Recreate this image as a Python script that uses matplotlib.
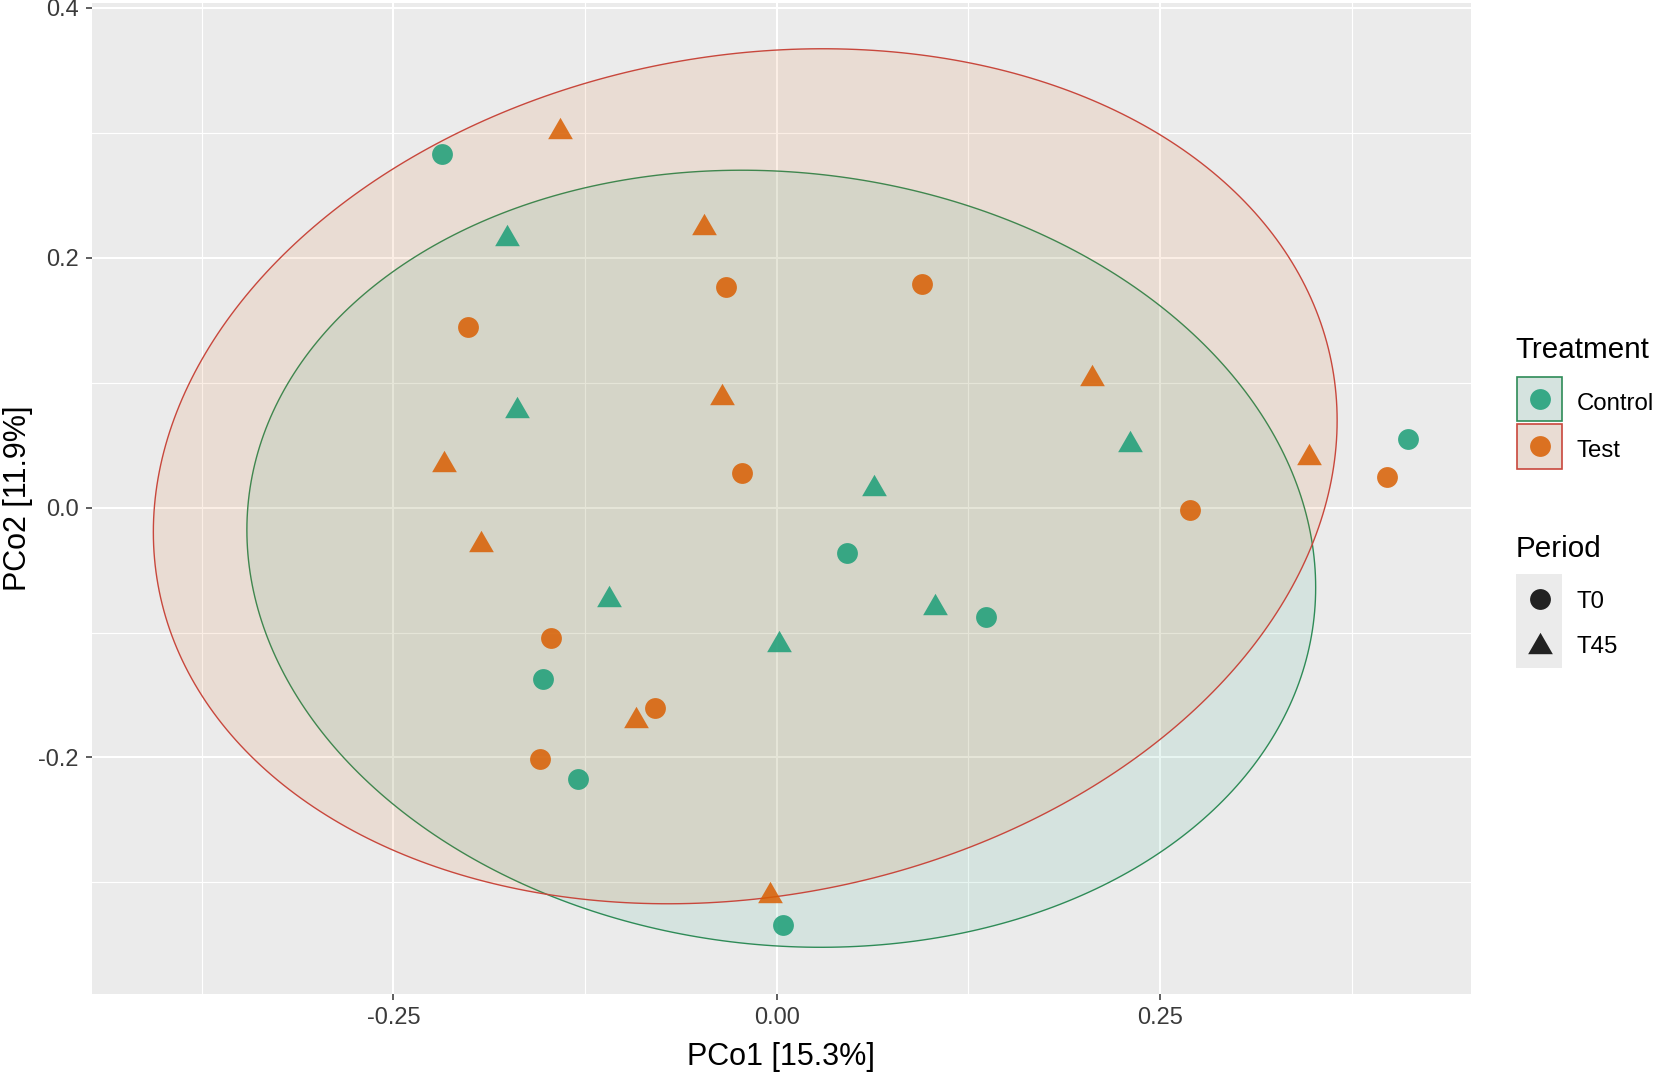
import numpy as np
import matplotlib
matplotlib.use("Agg")
import matplotlib.pyplot as plt
from matplotlib.colors import to_rgba
from matplotlib.patches import Rectangle
from matplotlib.lines import Line2D
from matplotlib.path import Path

# PCoA scores
control_t0_x = [-0.2183, 0.4117, 0.0458, 0.1363, -0.1523, -0.1293, 0.0043]
control_t0_y = [0.2826, 0.0550, -0.0367, -0.0876, -0.1376, -0.2175, -0.3340]
control_t45_x = [-0.1760, -0.1695, 0.0635, 0.2302, -0.1095, 0.1033, 0.0015]
control_t45_y = [0.2182, 0.0802, 0.0182, 0.0533, -0.0704, -0.0768, -0.1065]
test_t0_x = [-0.2010, -0.0330, 0.0945, -0.0228, 0.2694, 0.3978, -0.1473, -0.0795, -0.1543]
test_t0_y = [0.1447, 0.1765, 0.1789, 0.0275, -0.0016, 0.0241, -0.1044, -0.1604, -0.2016]
test_t45_x = [-0.1415, -0.0475, -0.0358, -0.2170, -0.1930, 0.2054, 0.3474, -0.0920, -0.0044]
test_t45_y = [0.3040, 0.2267, 0.0909, 0.0369, -0.0266, 0.1064, 0.0430, -0.1673, -0.3076]

# ellipse: centre x, centre y, half width, tilt (y offset of right end), half height term
control_ellipse = [0.0030, -0.0410, 0.3485, -0.0230, 0.3100]
test_ellipse = [-0.0205, 0.0250, 0.3860, 0.0447, 0.3391]

x_ticks = [-0.25, 0.0, 0.25]
x_tick_labels = ["-0.25", "0.00", "0.25"]
y_ticks = [-0.2, 0.0, 0.2, 0.4]
y_tick_labels = ["-0.2", "0.0", "0.2", "0.4"]

green = "#1B9E77"
orange = "#D95F02"
green_line = "#2E8B57"
red_line = "#C8473C"
panel_bg = "#EBEBEB"

plt.rcParams['font.family'] = ['Liberation Sans', 'DejaVu Sans']

W, H = 1654, 1072
fig = plt.figure(figsize=(W / 100, H / 100), dpi=100)
ax = fig.add_axes([91.7 / W, 1 - 993.6 / H, (1471 - 91.7) / W, (993.6 - 3.3) / H])
ax.set_facecolor(panel_bg)
for s in ax.spines.values():
    s.set_visible(False)

ax.set_xlim(-0.4467, 0.4528)
ax.set_ylim(-0.3889, 0.4034)
ax.set_xticks(x_ticks)
ax.set_xticklabels(x_tick_labels)
ax.set_yticks(y_ticks)
ax.set_yticklabels(y_tick_labels)
ax.set_xticks([-0.375, -0.125, 0.125, 0.375], minor=True)
ax.set_yticks([-0.3, -0.1, 0.1, 0.3], minor=True)
ax.grid(True, which="major", color="white", linewidth=1.5)
ax.grid(True, which="minor", color="white", linewidth=0.8)
ax.set_axisbelow(True)
ax.tick_params(which="major", length=4.3, width=1.1, color="#333333",
               labelsize=17, labelcolor="#3A3A3A", pad=5.0)
ax.tick_params(which="minor", length=0)

# ellipses (closed polygons so the outline has no seam)
t = np.linspace(0, 2 * np.pi, 400, endpoint=False)
for e, fcol, lcol in [(control_ellipse, green, green_line), (test_ellipse, orange, red_line)]:
    cx, cy, hw, k, v = e
    ex = cx + hw * np.cos(t)
    ey = cy + k * np.cos(t) + v * np.sin(t)
    ax.fill(ex, ey, facecolor=to_rgba(fcol, 0.1), edgecolor=lcol, linewidth=1.0)

tri = Path([(0, 0.75), (-0.866, -0.75), (0.866, -0.75), (0, 0.75)])
ms_circle = 15
ms_tri = 17.8
ax.plot(control_t0_x, control_t0_y, 'o', color=green, alpha=0.85, ms=ms_circle, mew=0)
ax.plot(control_t45_x, control_t45_y, marker=tri, ls='none', color=green, alpha=0.85, ms=ms_tri, mew=0)
ax.plot(test_t0_x, test_t0_y, 'o', color=orange, alpha=0.85, ms=ms_circle, mew=0)
ax.plot(test_t45_x, test_t45_y, marker=tri, ls='none', color=orange, alpha=0.85, ms=ms_tri, mew=0)

ax.set_xlabel("PCo1 [15.3%]", fontsize=22, color="black")
ax.xaxis.set_label_coords(0.5, -0.049)
ax.set_ylabel("PCo2 [11.9%]", fontsize=22, color="black")
ax.yaxis.set_label_coords(-0.0535, 0.5)
ax.yaxis.label.set_va("center")


# legend, drawn by hand in pixel positions
def fx(px):
    return px / W


def fy(py):
    return 1 - py / H


label_x = 1576.5
label_size = 17.3

fig.text(fx(1515.7), fy(358), "Treatment", fontsize=21.3, va="baseline", ha="left")
keys = [("Control", green, green_line, 376.7, 410), ("Test", orange, red_line, 424.0, 456.7)]
for name, fcol, lcol, top, base in keys:
    fig.add_artist(Rectangle((fx(1516.7), fy(top + 44.5)), 45.3 / W, 44.5 / H,
                             transform=fig.transFigure, facecolor=panel_bg, edgecolor="none"))
    fig.add_artist(Rectangle((fx(1516.7), fy(top + 44.5)), 45.3 / W, 44.5 / H,
                             transform=fig.transFigure, facecolor=to_rgba(fcol, 0.1),
                             edgecolor=lcol, linewidth=1.2))
    fig.add_artist(Line2D([fx(1540)], [fy(top + 22.3)], marker='o', color=fcol, alpha=0.85,
                          ms=ms_circle, mew=0, transform=fig.transFigure))
    fig.text(fx(label_x), fy(base), name, fontsize=label_size, va="baseline", ha="left")

fig.text(fx(1515.7), fy(556.7), "Period", fontsize=21.3, va="baseline", ha="left")
fig.add_artist(Rectangle((fx(1515.7), fy(668)), 46.6 / W, 94 / H,
                         transform=fig.transFigure, facecolor=panel_bg, edgecolor="none"))
fig.add_artist(Line2D([fx(1540)], [fy(599)], marker='o', color="#222222",
                      ms=ms_circle, mew=0, transform=fig.transFigure))
fig.add_artist(Line2D([fx(1540)], [fy(643)], marker=tri, color="#222222",
                      ms=ms_tri, mew=0, transform=fig.transFigure))
fig.text(fx(label_x), fy(608.3), "T0", fontsize=label_size, va="baseline", ha="left")
fig.text(fx(label_x), fy(653.3), "T45", fontsize=label_size, va="baseline", ha="left")

fig.savefig("out.png", dpi=100, facecolor="white")
